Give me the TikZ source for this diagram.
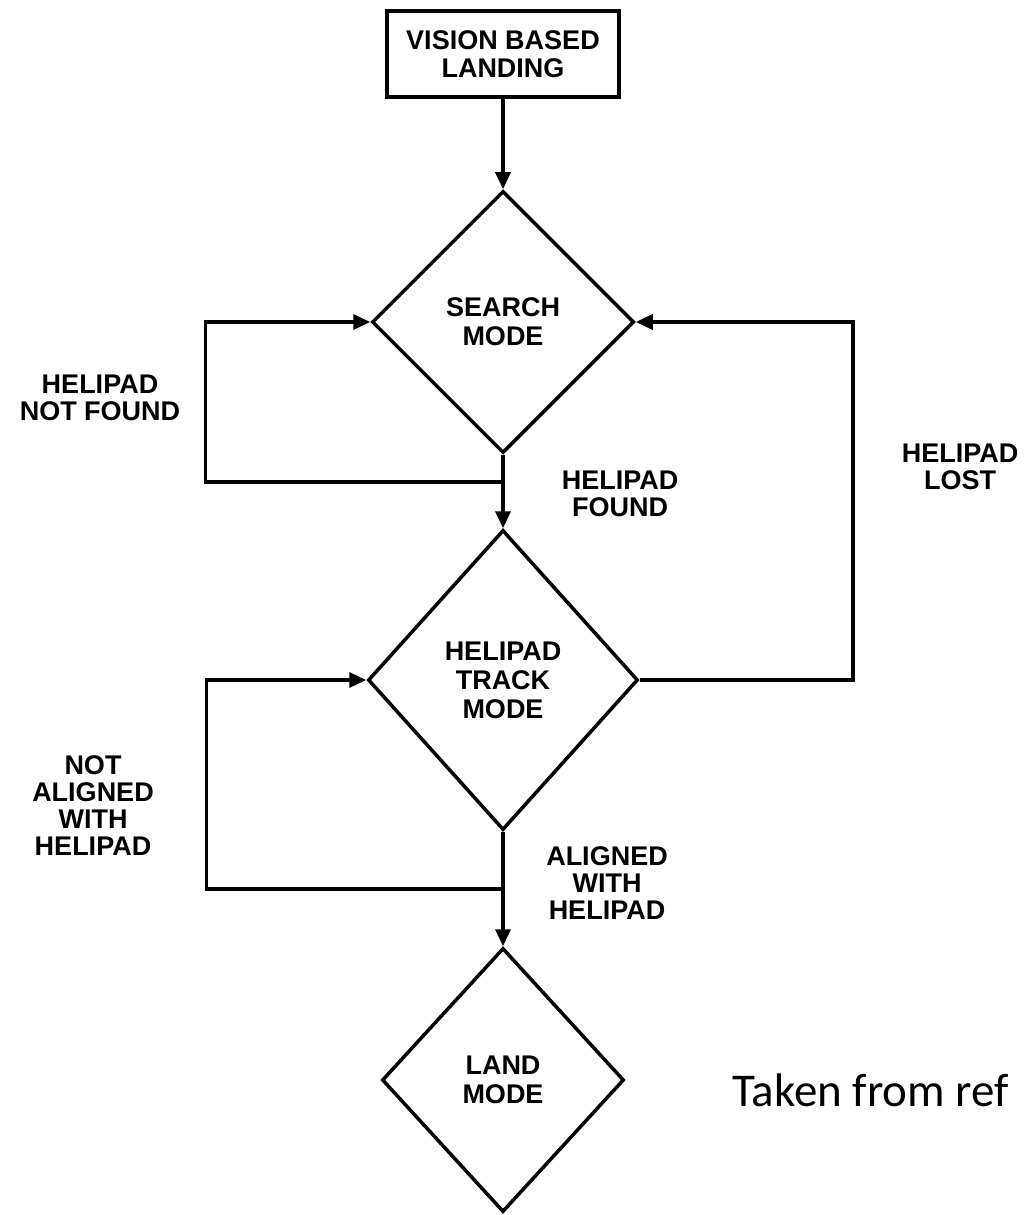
\documentclass[tikz,border=0pt]{standalone}
\usepackage{fontspec}
\setmainfont{Liberation Sans}
\newfontfamily\notefont{Carlito}
\usetikzlibrary{shapes.geometric, arrows.meta, positioning, calc}

\tikzset{
  mode/.style={diamond, draw, line width=3.5pt, inner sep=0pt, align=center,
    font=\fontsize{27}{29}\selectfont\bfseries},
  cond/.style={align=center, font=\fontsize{27}{27}\selectfont\bfseries},
  flow/.style={line width=3.5pt, -{Triangle[length=17pt,width=15pt]}}
}

\begin{document}
\begin{tikzpicture}[x=1pt,y=-1pt]
\useasboundingbox (0,0) rectangle (1025,1215);

% Start box
\node[draw, line width=4pt, minimum width=232pt, minimum height=86pt, align=center,
  font=\fontsize{27}{28}\selectfont\bfseries] (start) at (503,54) {VISION BASED\\LANDING};

% Modes
\node[mode, minimum width=262pt, minimum height=262pt] (search) at (503,322) {SEARCH\\MODE};
\node[mode, minimum width=270pt, minimum height=300pt] (track) at (503,680) {HELIPAD\\TRACK\\MODE};
\node[mode, minimum width=242pt, minimum height=264pt] (land) at (503,1080) {LAND\\MODE};

% Main flow
\draw[flow] (start) -- (search);
\draw[flow] (search.south) -- (track.north);
\draw[flow] (track.south) -- (land.north);

% Loops back
\draw[flow] ($(search.south)+(0,27)$) -| ($(search.west)+(-165,0)$) -- (search.west);
\draw[flow] (track.east) -- ++(213,0) |- (search.east);
\draw[flow] ($(track.south)+(0,57)$) -| ($(track.west)+(-160,0)$) -- (track.west);

% Conditions
\node[cond] (notfound) at (100,398) {HELIPAD\\NOT FOUND};
\node[cond] (found) at (620,494) {HELIPAD\\FOUND};
\node[cond] (lost) at (960,467) {HELIPAD\\LOST};
\node[cond] (notaligned) at (93,806) {NOT\\ALIGNED\\WITH\\HELIPAD};
\node[cond] (aligned) at (607,883) {ALIGNED\\WITH\\HELIPAD};

% Note
\node[anchor=west, font=\notefont\fontsize{47}{50}\selectfont] (note) at (729,1090) {Taken from ref};
\end{tikzpicture}
\end{document}
